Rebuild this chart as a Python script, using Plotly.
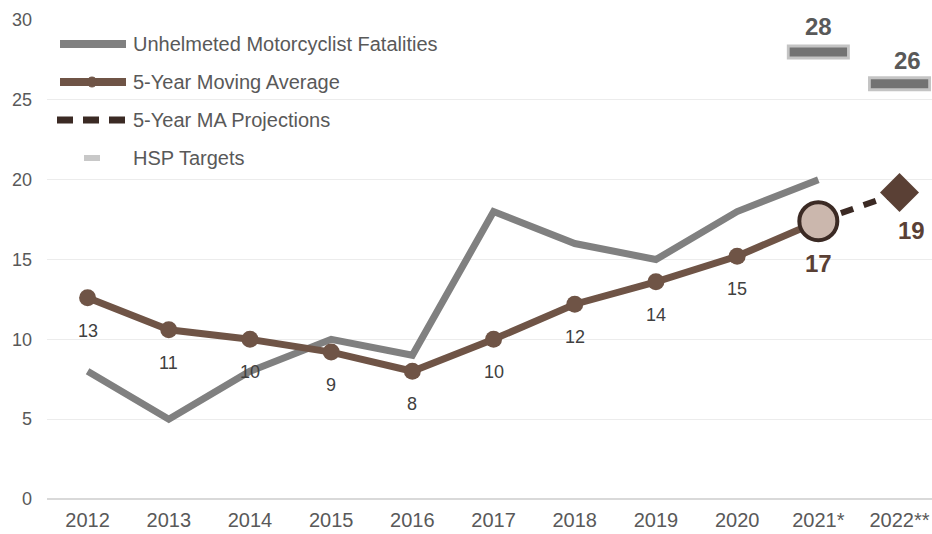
import plotly.graph_objects as go

years = ["2012", "2013", "2014", "2015", "2016", "2017", "2018", "2019", "2020", "2021*", "2022**"]
fatalities = [8, 5, 8, 10, 9, 18, 16, 15, 18, 20]
moving_avg = [12.6, 10.6, 10.0, 9.2, 8.0, 10.0, 12.2, 13.6, 15.2, 17.4]
proj_years = ["2021*", "2022**"]
projection = [17.4, 19.2]
target_years = ["2021*", "2022**"]
targets = [28, 26]

GRAY = "#808080"
BROWN = "#6f5446"
DARK = "#3b2a24"
TXT = "#595959"
FONT = "Liberation Sans, Arial, sans-serif"

W, H = 932, 534
# plot area in pixels (used for the hand-drawn legend)
L, R, T, B = 47, 932, 20, 499


def px_x(x):
    return (x - L) / (R - L)


def px_y(y):
    return (B - y) / (B - T)


fig = go.Figure()

fig.add_trace(go.Scatter(
    x=years[:len(fatalities)], y=fatalities,
    mode="lines",
    line=dict(color=GRAY, width=7),
    showlegend=False
))

fig.add_trace(go.Scatter(
    x=years[:len(moving_avg)], y=moving_avg,
    mode="lines",
    line=dict(color=BROWN, width=7),
    showlegend=False
))
fig.add_trace(go.Scatter(
    x=years[:len(moving_avg) - 1], y=moving_avg[:-1],
    mode="markers",
    marker=dict(size=17, color=BROWN),
    showlegend=False
))

fig.add_trace(go.Scatter(
    x=proj_years, y=projection,
    mode="lines",
    line=dict(color=DARK, width=6, dash="13px,11px"),
    showlegend=False
))

# last real moving average point
fig.add_trace(go.Scatter(
    x=[years[len(moving_avg) - 1]], y=[moving_avg[-1]],
    mode="markers",
    marker=dict(size=38, color="#cbb7ad", line=dict(color=DARK, width=4)),
    showlegend=False
))

# projection end point
fig.add_trace(go.Scatter(
    x=[proj_years[-1]], y=[projection[-1]],
    mode="markers",
    marker=dict(size=30, symbol="diamond", color="#5a4035"),
    showlegend=False
))

# HSP targets: short bars with a light border
fig.add_trace(go.Scatter(
    x=target_years, y=targets,
    mode="markers",
    marker=dict(symbol="line-ew", size=45, line=dict(color="#c4c4c4", width=15)),
    showlegend=False
))
fig.add_trace(go.Scatter(
    x=target_years, y=targets,
    mode="markers",
    marker=dict(symbol="line-ew", size=41, line=dict(color="#737373", width=9)),
    showlegend=False
))

annotations = []

# moving average labels below points
# (category names like "2012" would be read as numbers, so use the index)
for i, v in enumerate(moving_avg[:-1]):
    annotations.append(dict(
        x=i, y=v, text=str(round(v)), showarrow=False,
        yshift=-33, font=dict(family=FONT, size=18, color="#404040")
    ))

annotations.append(dict(
    x=years[len(moving_avg) - 1], y=moving_avg[-1], text="<b>%d</b>" % round(moving_avg[-1]),
    showarrow=False, yshift=-42, font=dict(family=FONT, size=24, color="#5a4035")
))
annotations.append(dict(
    x=proj_years[-1], y=projection[-1], text="<b>%d</b>" % round(projection[-1]),
    showarrow=False, yshift=-38, xshift=12, font=dict(family=FONT, size=24, color="#5a4035")
))

for yr, v, xs, ys in zip(target_years, targets, [0, 8], [25, 23]):
    annotations.append(dict(
        x=yr, y=v, text="<b>%d</b>" % v, showarrow=False,
        yshift=ys, xshift=xs, font=dict(family=FONT, size=24, color=TXT)
    ))

# hand-drawn legend
legend_rows = [
    ("Unhelmeted Motorcyclist Fatalities", 44),
    ("5-Year Moving Average", 82),
    ("5-Year MA Projections", 120),
    ("HSP Targets", 158),
]
for label, ypix in legend_rows:
    annotations.append(dict(
        xref="paper", yref="paper", x=px_x(131), y=px_y(ypix),
        xanchor="left", yanchor="middle", text=label, showarrow=False,
        font=dict(family=FONT, size=20, color=TXT)
    ))

shapes = [
    dict(type="line", xref="paper", yref="paper",
         x0=px_x(60), x1=px_x(126), y0=px_y(44), y1=px_y(44),
         line=dict(color=GRAY, width=8)),
    dict(type="line", xref="paper", yref="paper",
         x0=px_x(60), x1=px_x(126), y0=px_y(82), y1=px_y(82),
         line=dict(color=BROWN, width=8)),
    dict(type="circle", xref="paper", yref="paper",
         x0=px_x(87), x1=px_x(97), y0=px_y(87), y1=px_y(77),
         fillcolor=BROWN, line=dict(color=BROWN, width=1)),
    dict(type="line", xref="paper", yref="paper",
         x0=px_x(57), x1=px_x(128), y0=px_y(120), y1=px_y(120),
         line=dict(color=DARK, width=7, dash="16px,10px")),
    dict(type="line", xref="paper", yref="paper",
         x0=px_x(84), x1=px_x(100), y0=px_y(158), y1=px_y(158),
         line=dict(color="#c8c8c8", width=6)),
]

fig.update_layout(
    width=W, height=H,
    margin=dict(l=L, r=W - R, t=T, b=H - B),
    paper_bgcolor="white", plot_bgcolor="white",
    annotations=annotations,
    shapes=shapes,
    showlegend=False,
)

fig.update_xaxes(
    type="category", categoryorder="array", categoryarray=years,
    range=[-0.5, 10.4],
    showgrid=False, zeroline=False, showline=False,
    tickfont=dict(family=FONT, size=20, color=TXT),
    ticks="", ticklabelstandoff=7,
)

fig.update_yaxes(
    range=[0, 30], dtick=5,
    showgrid=True, gridcolor="#ececec", gridwidth=1,
    zeroline=True, zerolinecolor="#d9d9d9", zerolinewidth=2,
    showline=False,
    tickfont=dict(family=FONT, size=18, color=TXT),
    ticks="", ticklabelstandoff=14,
)

# drop the default page margin so the figure fills the window exactly
fig.write_html(
    "out.html",
    config={"displayModeBar": False},
    post_script="document.body.style.margin='0';document.body.style.overflow='hidden';"
)
